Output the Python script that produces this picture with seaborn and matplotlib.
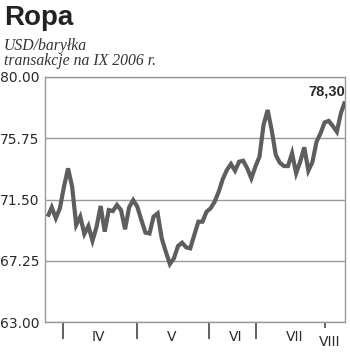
import matplotlib
matplotlib.use("Agg")
import matplotlib.pyplot as plt
import matplotlib.transforms as mtransforms
import seaborn as sns
import pandas as pd

# --- data ---------------------------------------------------------------
prices = [70.31, 70.96, 70.20, 70.89, 72.39, 73.66, 72.39, 69.73, 70.31, 69.11,
          69.66, 68.64, 69.61, 71.05, 69.27, 70.77, 70.70, 71.12, 70.77, 69.43,
          70.96, 71.46, 71.00, 70.08, 69.20, 69.14, 70.31, 70.54, 68.81, 67.88,
          67.02, 67.42, 68.27, 68.50, 68.18, 68.11, 69.04, 69.96, 69.96, 70.65,
          70.89, 71.35, 72.05, 72.92, 73.55, 73.96, 73.50, 74.12, 74.19, 73.66,
          72.97, 73.78, 74.47, 76.67, 77.71, 76.32, 74.59, 74.05, 73.82, 73.82,
          74.71, 73.32, 74.12, 75.12, 73.50, 74.10, 75.50, 76.10, 76.85, 76.95,
          76.60, 76.20, 77.50, 78.30]
days = list(range(len(prices)))

month_bounds = [3.76, 21.9, 39.6, 51.1]
month_bound_short = [68.1]
month_labels = ["IV", "V", "VI", "VII", "VIII"]
month_label_pos = [12.4, 30.5, 46.2, 60.7, 69.3]

y_ticks = [63.00, 67.25, 71.50, 75.75, 80.00]
y_ticklabels = ["63.00", "67.25", "71.50", "75.75", "80.00"]

title = "Ropa"
subtitle1 = "USD/baryłka"
subtitle2 = "transakcje na IX 2006 r."
last_label = "78,30"

df = pd.DataFrame({"day": days, "price": prices})

# --- figure -------------------------------------------------------------
sns.set_style("white")
plt.rcParams["font.family"] = ["DejaVu Sans"]

W, H = 350, 355
fig = plt.figure(figsize=(W / 100, H / 100), dpi=100)
ax = fig.add_axes([45 / W, 1 - 322 / H, 300 / W, 245 / H])

grid_c = "#9a9a9a"
line_c = "#5e5e5e"
text_c = "#2a2a2a"

for yv in y_ticks:
    ax.axhline(yv, color=grid_c, lw=1.0, zorder=1)

sns.lineplot(data=df, x="day", y="price", ax=ax, color=line_c, lw=3.0,
             zorder=3, solid_joinstyle="miter", solid_capstyle="butt")

ax.set_xlim(-0.66, 73.0)
ax.set_ylim(63.0, 80.0)
ax.set_xlabel("")
ax.set_ylabel("")

ax.set_yticks(y_ticks)
ax.set_yticklabels(y_ticklabels, fontsize=10, color=text_c)
ax.tick_params(axis="y", length=0, pad=4)

ax.set_xticks(month_bounds)
ax.set_xticklabels([])
ax.set_xticks(month_bound_short, minor=True)
ax.tick_params(axis="x", which="major", direction="out", length=12.5,
               width=1.3, color="#555555", bottom=True)
ax.tick_params(axis="x", which="minor", direction="out", length=4.5,
               width=1.3, color="#555555", bottom=True)

for side in ["left", "right", "bottom", "top"]:
    ax.spines[side].set_visible(True)
    ax.spines[side].set_color(grid_c)
    ax.spines[side].set_linewidth(1.0)

trans = mtransforms.blended_transform_factory(ax.transData, fig.transFigure)
for i, (lab, pos) in enumerate(zip(month_labels, month_label_pos)):
    yy = 1 - 337 / H if lab != "VIII" else 1 - 342 / H
    ax.text(pos, yy, lab, transform=trans, ha="center", va="center",
            fontsize=10, color=text_c)

# last value label
ax.text(days[-1], 1 - 96 / H, last_label, transform=trans, ha="right",
        va="baseline", fontsize=10.5, fontweight="bold", color=text_c,
        family="Liberation Sans")

fig.text(4 / W, 1 - 25 / H, title, ha="left", va="baseline", fontsize=20,
         fontweight="bold", color="#222222", family="Liberation Sans")
fig.text(4 / W, 1 - 50.5 / H, subtitle1, ha="left", va="baseline", fontsize=11.3,
         style="italic", color="#333333", family="Liberation Serif")
fig.text(4 / W, 1 - 65 / H, subtitle2, ha="left", va="baseline", fontsize=11.3,
         style="italic", color="#333333", family="Liberation Serif")

fig.savefig("out.png", dpi=100)
